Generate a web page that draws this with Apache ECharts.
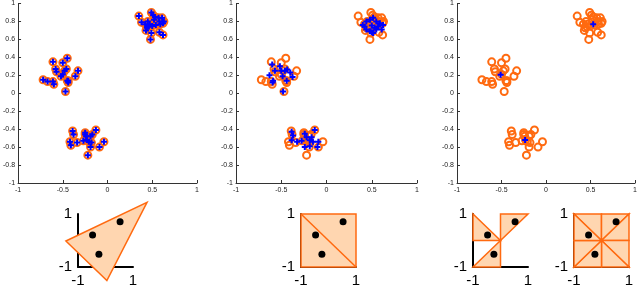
<!DOCTYPE html>
<html><head><meta charset="utf-8">
<script src="https://cdn.jsdelivr.net/npm/echarts@6/dist/echarts.min.js"></script>
<style>html,body{margin:0;padding:0;background:#fff}#c{width:640px;height:288px}</style>
</head><body><div id="c"></div>
<script>
// ---- data ----
const upperPts = [[0.35,0.86],[0.49,0.90],[0.51,0.87],[0.53,0.85],[0.57,0.84],[0.61,0.84],[0.63,0.80],[0.62,0.78],[0.38,0.79],[0.42,0.77],[0.45,0.80],[0.47,0.77],[0.44,0.73],[0.43,0.70],[0.50,0.75],[0.54,0.76],[0.59,0.77],[0.58,0.80],[0.49,0.67],[0.48,0.60],[0.58,0.68],[0.62,0.65],[0.52,0.82],[0.46,0.74]];
const leftPts = [[-0.61,0.35],[-0.50,0.34],[-0.45,0.39],[-0.58,0.27],[-0.57,0.24],[-0.50,0.21],[-0.48,0.25],[-0.46,0.27],[-0.33,0.25],[-0.36,0.19],[-0.72,0.15],[-0.67,0.13],[-0.61,0.13],[-0.60,0.10],[-0.45,0.14],[-0.44,0.12],[-0.47,0.02],[-0.52,0.19],[-0.44,0.14]];
const lowerPts = [[-0.39,-0.42],[-0.38,-0.46],[-0.25,-0.44],[-0.24,-0.48],[-0.13,-0.41],[-0.42,-0.54],[-0.41,-0.58],[-0.34,-0.55],[-0.27,-0.53],[-0.23,-0.52],[-0.21,-0.54],[-0.19,-0.48],[-0.17,-0.46],[-0.19,-0.60],[-0.09,-0.60],[-0.04,-0.54],[-0.22,-0.69],[-0.18,-0.55],[-0.25,-0.46]];
const plus2Pts = [[0.40,0.76],[0.44,0.80],[0.48,0.82],[0.515,0.84],[0.55,0.80],[0.59,0.78],[0.50,0.755],[0.53,0.73],[0.57,0.745],[0.625,0.76],[0.44,0.71],[0.48,0.69],[0.515,0.67],[0.55,0.71],[0.61,0.71],[0.42,0.745],[0.50,0.68],
  [-0.60,0.32],[-0.63,0.20],[-0.59,0.14],[-0.57,0.25],[-0.515,0.30],[-0.50,0.25],[-0.485,0.19],[-0.46,0.25],[-0.435,0.265],[-0.40,0.23],[-0.375,0.18],[-0.44,0.14],[-0.48,0.02],[-0.595,0.12],
  [-0.385,-0.43],[-0.37,-0.47],[-0.385,-0.525],[-0.325,-0.54],[-0.275,-0.53],[-0.24,-0.45],[-0.22,-0.49],[-0.24,-0.60],[-0.185,-0.525],[-0.165,-0.49],[-0.13,-0.41],[-0.15,-0.54],[-0.185,-0.59],[-0.10,-0.60],[-0.09,-0.54]];
const centers3 = [[0.53,0.77],[-0.51,0.205],[-0.235,-0.52]];
const dotsBottom = [[0.53,0.71],[-0.47,0.21],[-0.24,-0.52]];
const triangleDiag1 = [[[-1.44,-0.02],[1.51,1.44],[0.05,-1.51]]];
const polysDiag2 = [[[-1,-1],[1,-1],[1,1],[-1,1]]];
const linesDiag2 = [[[-1,1],[1,-1]]];
const polysDiag3a = [[[-1,1],[-1,0],[0,0]],[[0,0],[0,1],[1,1]],[[-1,-1],[0,-1],[0,0]]];
const polysDiag3b = [[[0,0],[-1,1],[0,1]],[[0,0],[0,1],[1,1]],[[0,0],[1,1],[1,0]],[[0,0],[1,0],[1,-1]],[[0,0],[1,-1],[0,-1]],[[0,0],[0,-1],[-1,-1]],[[0,0],[-1,-1],[-1,0]],[[0,0],[-1,0],[-1,1]]];
const topXTicks = [-1,-0.5,0,0.5,1];
const topYTicks = [-1,-0.8,-0.6,-0.4,-0.2,0,0.2,0.4,0.6,0.8,1];

const allPts = upperPts.concat(leftPts, lowerPts);
const ORANGE = '#ff6a10';
const FILL = '#ffd6b0';
const BLUE = '#0000ff';
const plusPath = 'path://M2,0H4V2H6V4H4V6H2V4H0V2H2Z';
const FONT = 'Liberation Sans';

const topGrids = [{left:15,top:2,width:182,height:181},{left:236,top:2,width:181,height:181},{left:457,top:2,width:181,height:181}];
const botGrids = [{left:78,top:214,width:55,height:55},{left:301,top:214,width:55,height:55},{left:473,top:214,width:55,height:55},{left:574,top:214,width:55,height:55}];

function topX(i){return {gridIndex:i,type:'value',min:-1,max:1,interval:0.5,
  axisLine:{show:true,onZero:false,lineStyle:{color:'#333',width:1}},axisTick:{show:true,inside:true,length:3,lineStyle:{color:'#333'}},
  splitLine:{show:false},axisLabel:{fontSize:7,color:'#222',fontFamily:FONT,margin:4,formatter:v=>String(topXTicks.find(t=>Math.abs(t-v)<1e-6)??v)}};}
function topY(i){return {gridIndex:i,type:'value',min:-1,max:1,interval:0.2,
  axisLine:{show:true,onZero:false,lineStyle:{color:'#333',width:1}},axisTick:{show:true,inside:true,length:3,lineStyle:{color:'#333'}},
  splitLine:{show:false},axisLabel:{fontSize:7,color:'#222',fontFamily:FONT,margin:3,formatter:v=>String(topYTicks.find(t=>Math.abs(t-v)<1e-6)??v)}};}
function botX(i){return {gridIndex:i,type:'value',min:-1,max:1,interval:2,
  axisLine:{show:true,onZero:false,lineStyle:{color:'#000',width:2}},axisTick:{show:false},splitLine:{show:false},
  axisLabel:{fontSize:15,color:'#000',fontFamily:FONT,margin:6}};}
function botY(i){return {gridIndex:i,type:'value',min:-1,max:1,interval:2,
  axisLine:{show:true,onZero:false,lineStyle:{color:'#000',width:2}},axisTick:{show:false},splitLine:{show:false},
  axisLabel:{fontSize:15,color:'#000',fontFamily:FONT,margin:6}};}

const xAxes=[],yAxes=[];
for(let i=0;i<3;i++){xAxes.push(topX(i));yAxes.push(topY(i));}
for(let i=0;i<4;i++){xAxes.push(botX(3+i));yAxes.push(botY(3+i));}

function circles(ax){return {type:'scatter',xAxisIndex:ax,yAxisIndex:ax,data:allPts,symbol:'circle',symbolSize:7,z:2,
  itemStyle:{color:'rgba(255,255,255,0)',borderColor:ORANGE,borderWidth:2,opacity:1},silent:true};}
function pluses(ax,d){return {type:'scatter',xAxisIndex:ax,yAxisIndex:ax,data:d,symbol:plusPath,symbolSize:6,z:3,
  itemStyle:{color:BLUE,opacity:1},silent:true};}
function polys(ax,d){return {type:'custom',xAxisIndex:ax,yAxisIndex:ax,data:d.map((p,k)=>[k]),clip:false,z:2,silent:true,
  renderItem:(params,api)=>{const poly=d[api.value(0)];return {type:'polygon',shape:{points:poly.map(p=>api.coord(p))},
    style:{fill:FILL,stroke:ORANGE,lineWidth:1.5}};}};}
function lns(ax,d){return {type:'custom',xAxisIndex:ax,yAxisIndex:ax,data:d.map((p,k)=>[k]),clip:false,z:3,silent:true,
  renderItem:(params,api)=>{const l=d[api.value(0)];return {type:'polyline',shape:{points:l.map(p=>api.coord(p))},
    style:{fill:null,stroke:ORANGE,lineWidth:1.5}};}};}
function dots(ax){return {type:'scatter',xAxisIndex:ax,yAxisIndex:ax,data:dotsBottom,symbol:'circle',symbolSize:7,z:5,
  itemStyle:{color:'#000',opacity:1},silent:true};}

const series=[
  circles(0),pluses(0,allPts),
  circles(1),pluses(1,plus2Pts),
  circles(2),pluses(2,centers3),
  polys(3,triangleDiag1),dots(3),
  polys(4,polysDiag2),lns(4,linesDiag2),dots(4),
  polys(5,polysDiag3a),dots(5),
  polys(6,polysDiag3b),dots(6)
];

const chart=echarts.init(document.getElementById('c'),null,{renderer:'canvas'});
chart.setOption({animation:false,backgroundColor:'#fff',grid:topGrids.concat(botGrids),xAxis:xAxes,yAxis:yAxes,series:series});
</script></body></html>
